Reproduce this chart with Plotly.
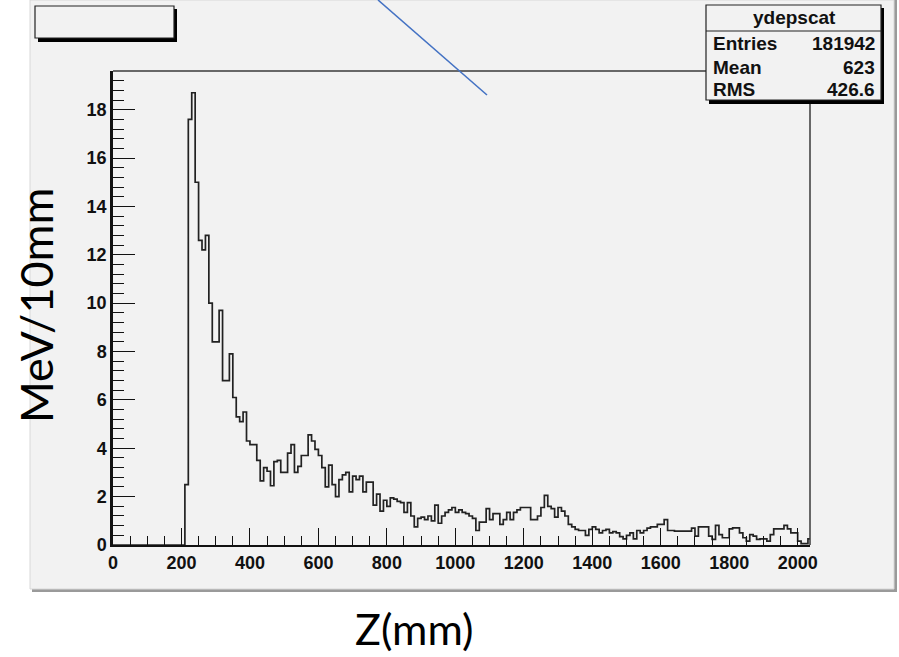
import plotly.graph_objects as go

# ---------------- data ----------------
bin_first_edge = 210
bin_width = 10
energy = [
    2.5, 17.6, 18.7, 15.0, 12.6, 12.2, 12.8, 10.0, 8.4, 8.4,          # 210-300
    9.7, 6.8, 6.8, 7.9, 6.1, 5.3, 5.1, 5.5, 4.3, 4.15,                 # 310-400
    4.15, 3.5, 2.65, 3.2, 3.05, 2.45, 3.45, 3.5, 3.0, 3.0,             # 410-500
    3.8, 4.15, 3.0, 3.25, 3.7, 3.7, 4.55, 4.3, 3.95, 3.7,              # 510-600
    3.2, 2.4, 3.3, 2.5, 2.0, 2.7, 2.9, 3.0, 2.2, 2.85,                 # 610-700
    2.7, 2.85, 2.2, 2.6, 2.6, 1.65, 2.1, 1.4, 1.85, 1.6,               # 710-800
    1.95, 1.9, 1.8, 1.75, 1.35, 1.75, 1.2, 0.75, 1.1, 1.15,            # 810-900
    1.05, 1.2, 1.0, 1.65, 0.9, 1.2, 1.35, 1.45, 1.55, 1.35,            # 910-1000
    1.45, 1.35, 1.3, 1.2, 1.1, 0.6, 0.95, 0.95, 1.5, 1.05,             # 1010-1100
    1.3, 1.3, 0.85, 1.05, 1.35, 1.05, 1.35, 1.45, 1.55, 1.55,          # 1110-1200
    1.55, 1.05, 1.05, 1.2, 1.55, 2.05, 1.6, 1.5, 1.15, 1.55,           # 1210-1300
    1.4, 1.2, 0.85, 0.75, 0.65, 0.6, 0.6, 0.4, 0.65, 0.75,             # 1310-1400
    0.65, 0.5, 0.6, 0.65, 0.5, 0.55, 0.5, 0.35, 0.25, 0.4,             # 1410-1500
    0.5, 0.25, 0.6, 0.5, 0.6, 0.7, 0.75, 0.75, 0.85, 0.85,             # 1510-1600
    1.05, 0.6, 0.6, 0.57, 0.57, 0.57, 0.57, 0.57, 0.7, 0.37,           # 1610-1700
    0.75, 0.75, 0.75, 0.37, 0.23, 0.81, 0.43, 0.3, 0.3, 0.67,          # 1710-1800
    0.71, 0.71, 0.5, 0.3, 0.16, 0.43, 0.37, 0.23, 0.25, 0.25,          # 1810-1900
    0.16, 0.43, 0.67, 0.67, 0.67, 0.81, 0.67, 0.5, 0.5, 0.16,          # 1910-2000
    0.06, 0.06, 0.25,                                                  # 2010-2030
]
x_tick_vals = [0, 200, 400, 600, 800, 1000, 1200, 1400, 1600, 1800, 2000]
y_tick_vals = [0, 2, 4, 6, 8, 10, 12, 14, 16, 18]

hist_name = "ydepscat"
stat_labels = ["Entries", "Mean", "RMS"]
stat_values = ["181942", "623", "426.6"]

x_title = "Z(mm)"
y_title = "MeV/10mm"

# ---------------- geometry helpers (pixel -> paper) ----------------
W, H = 899, 657
L, R, T, B = 113, 810, 71, 545
def xp(px):
    return (px - L) / (R - L)
def yp(py):
    return (B - py) / (B - T)

edges = list(range(bin_first_edge, bin_first_edge + bin_width * (len(energy) + 1), bin_width))
yvals = energy + [energy[-1]]

fig = go.Figure()
fig.add_trace(go.Scatter(
    x=[0, bin_first_edge] + edges, y=[0, 0] + yvals,
    mode="lines", line=dict(shape="hv", color="#222222", width=1.7),
    hoverinfo="skip", showlegend=False, cliponaxis=True,
))

PAD = "#f2f2f2"
shapes = []
# pad background with shadow
shapes.append(dict(type="rect", xref="paper", yref="paper", layer="below",
                   x0=xp(32), x1=xp(897), y0=yp(0), y1=yp(592),
                   fillcolor="#9a9a9a", line=dict(width=0)))
shapes.append(dict(type="rect", xref="paper", yref="paper", layer="below",
                   x0=xp(30), x1=xp(894), y0=yp(0), y1=yp(589),
                   fillcolor=PAD, line=dict(color="#d8d8d8", width=1)))
# frame top and right
shapes.append(dict(type="line", xref="paper", yref="paper",
                   x0=xp(113), x1=xp(706), y0=yp(71), y1=yp(71),
                   line=dict(color="#3a3a3a", width=1.5)))
shapes.append(dict(type="line", xref="paper", yref="paper",
                   x0=xp(810), x1=xp(810), y0=yp(100), y1=yp(545),
                   line=dict(color="#3a3a3a", width=1.5)))
# top-left empty title box with shadow
shapes.append(dict(type="rect", xref="paper", yref="paper",
                   x0=xp(38), x1=xp(177), y0=yp(9), y1=yp(42),
                   fillcolor="#000000", line=dict(width=0)))
shapes.append(dict(type="rect", xref="paper", yref="paper",
                   x0=xp(35), x1=xp(174), y0=yp(6), y1=yp(38),
                   fillcolor=PAD, line=dict(color="#222222", width=1.2)))
# stats box with shadow
shapes.append(dict(type="rect", xref="paper", yref="paper",
                   x0=xp(709), x1=xp(884), y0=yp(8), y1=yp(104),
                   fillcolor="#000000", line=dict(width=0)))
shapes.append(dict(type="rect", xref="paper", yref="paper",
                   x0=xp(706), x1=xp(881), y0=yp(5), y1=yp(100),
                   fillcolor=PAD, line=dict(color="#222222", width=1.2)))
shapes.append(dict(type="line", xref="paper", yref="paper",
                   x0=xp(706), x1=xp(881), y0=yp(31), y1=yp(31),
                   line=dict(color="#222222", width=1.2)))
# blue callout line
shapes.append(dict(type="line", xref="paper", yref="paper",
                   x0=xp(378), x1=xp(487), y0=yp(0), y1=yp(95),
                   line=dict(color="#4472C4", width=1.6)))

sfont = dict(family="Liberation Sans", size=19, color="#111111")
annotations = [
    dict(text=f"<b>{hist_name}</b>", xref="paper", yref="paper",
         x=xp(794), y=yp(18), xanchor="center", yanchor="middle",
         showarrow=False, font=sfont),
]
rows_y = [43, 67, 90]
for lab, val, ry in zip(stat_labels, stat_values, rows_y):
    annotations.append(dict(text=f"<b>{lab}</b>", xref="paper", yref="paper",
                            x=xp(711), y=yp(ry), xanchor="left", yanchor="middle",
                            showarrow=False, font=sfont))
    annotations.append(dict(text=f"<b>{val}</b>", xref="paper", yref="paper",
                            x=xp(877), y=yp(ry), xanchor="right", yanchor="middle",
                            showarrow=False, font=sfont))
annotations.append(dict(text=y_title, xref="paper", yref="paper",
                        x=xp(36), y=yp(305), xanchor="center", yanchor="middle",
                        textangle=-90, showarrow=False,
                        font=dict(family="Lato", size=45, color="#000000")))
annotations.append(dict(text=x_title, xref="paper", yref="paper",
                        x=xp(414), y=yp(628), xanchor="center", yanchor="middle",
                        showarrow=False,
                        font=dict(family="Lato", size=43, color="#000000")))

tickfont = dict(family="Liberation Sans", size=18, color="#111111")
fig.update_layout(
    width=W, height=H,
    margin=dict(l=L, r=W - R, t=T, b=H - B, pad=0),
    paper_bgcolor="white", plot_bgcolor=PAD,
    shapes=shapes, annotations=annotations, showlegend=False,
    xaxis=dict(range=[0, 2036], showgrid=False, zeroline=False,
               showline=True, linecolor="#111111", linewidth=2,
               ticks="inside", ticklen=17, tickwidth=1.3, tickcolor="#111111",
               tickvals=x_tick_vals, ticktext=[f"<b>{v}</b>" for v in x_tick_vals],
               tickfont=tickfont,
               minor=dict(dtick=50, tick0=0, ticks="inside", ticklen=9,
                          tickwidth=1.2, tickcolor="#111111", showgrid=False)),
    yaxis=dict(range=[0, 19.6], showgrid=False, zeroline=False,
               showline=True, linecolor="#111111", linewidth=2.5,
               ticks="inside", ticklen=22, tickwidth=1.3, tickcolor="#111111",
               tickvals=y_tick_vals, ticktext=[f"<b>{v}</b>" for v in y_tick_vals],
               tickfont=tickfont,
               minor=dict(dtick=0.4, tick0=0, ticks="inside", ticklen=11,
                          tickwidth=1.2, tickcolor="#111111", showgrid=False)),
)

fig.write_html("out.html",
               config={"displayModeBar": False},
               post_script="document.body.style.margin='0px';document.body.style.overflow='hidden';")
